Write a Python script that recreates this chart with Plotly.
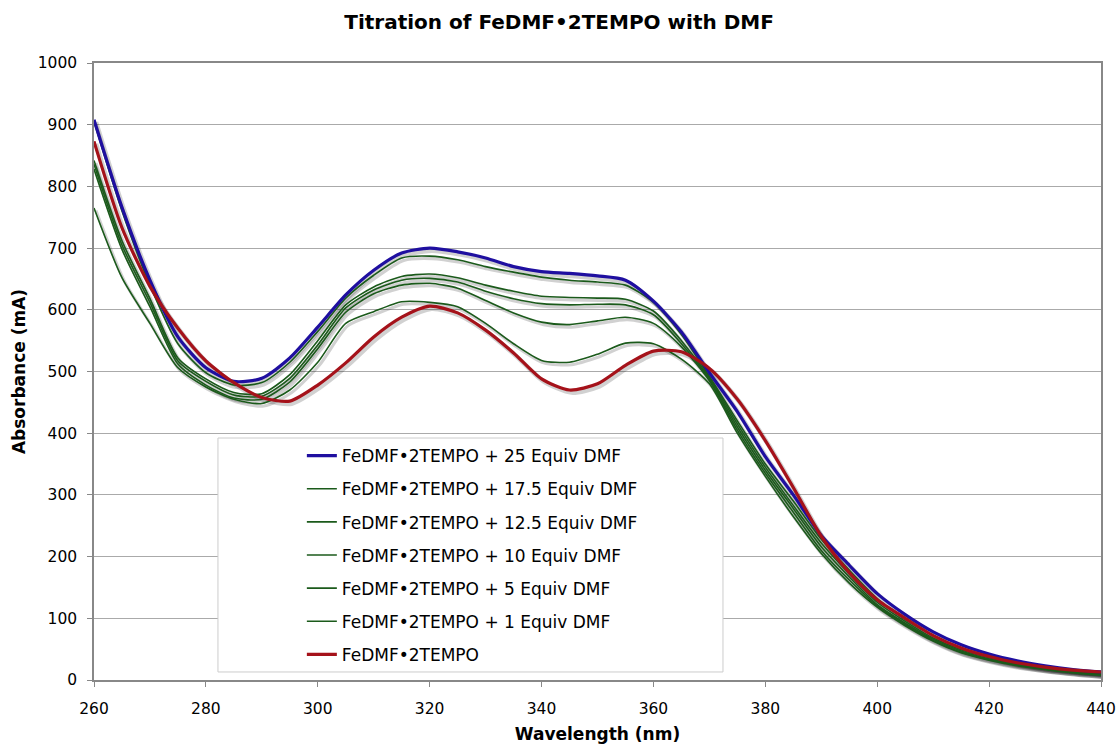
import plotly.graph_objects as go

wavelength = [260, 265, 270, 275, 280, 285, 290, 295, 300, 305, 310, 315, 320, 325, 330,
              335, 340, 345, 350, 355, 360, 365, 370, 375, 380, 385, 390, 395, 400, 405,
              410, 415, 420, 425, 430, 435, 440]

eq25 = [908, 766, 648, 556, 506, 484, 489, 522, 572, 624, 664, 692, 700, 694, 684,
        670, 662, 659, 655, 648, 614, 564, 498, 435, 362, 300, 234, 186, 140, 106,
        78, 57, 42, 31, 23, 17, 13]
eq17_5 = [905, 760, 640, 545, 498, 478, 482, 515, 565, 619, 656, 684, 687, 681, 670,
          661, 653, 648, 645, 640, 612, 560, 492, 420, 350, 290, 228, 178, 132, 98,
          72, 52, 38, 28, 20, 15, 11]
eq12_5 = [842, 712, 618, 522, 488, 466, 464, 495, 550, 608, 637, 654, 658, 652, 640,
          630, 622, 620, 619, 617, 598, 550, 490, 415, 345, 283, 222, 172, 126, 95,
          68, 49, 36, 26, 19, 14, 10]
eq10 = [836, 705, 612, 517, 484, 462, 460, 489, 543, 603, 632, 648, 651, 645, 630,
        618, 610, 608, 609, 608, 592, 545, 487, 410, 340, 278, 216, 167, 122, 92,
        66, 47, 34, 25, 18, 13, 9]
eq5 = [828, 698, 605, 512, 478, 457, 455, 483, 537, 596, 626, 640, 643, 635, 615,
       595, 580, 576, 582, 588, 578, 540, 485, 405, 335, 272, 210, 162, 120, 90,
       64, 45, 33, 24, 17, 12, 8]
eq1 = [765, 652, 578, 506, 475, 455, 448, 470, 515, 578, 597, 613, 612, 605, 578,
       545, 518, 515, 528, 546, 545, 520, 480, 400, 330, 265, 205, 157, 118, 88,
       63, 44, 32, 23, 17, 12, 8]
eq0 = [873, 733, 638, 570, 517, 482, 458, 452, 478, 514, 556, 588, 606, 595, 567,
       530, 488, 470, 480, 510, 533, 532, 505, 455, 388, 312, 233, 174, 130, 100,
       72, 52, 38, 28, 21, 16, 13]

series = [
    ("FeDMF•2TEMPO + 25 Equiv DMF", eq25, "#1F0FA0", 3.2),
    ("FeDMF•2TEMPO + 17.5 Equiv DMF", eq17_5, "#1B5A1B", 1.6),
    ("FeDMF•2TEMPO + 12.5 Equiv DMF", eq12_5, "#1B5A1B", 1.6),
    ("FeDMF•2TEMPO + 10 Equiv DMF", eq10, "#1B5A1B", 1.6),
    ("FeDMF•2TEMPO + 5 Equiv DMF", eq5, "#1B5A1B", 1.6),
    ("FeDMF•2TEMPO + 1 Equiv DMF", eq1, "#1B5A1B", 1.6),
    ("FeDMF•2TEMPO", eq0, "#A5121A", 3.2),
]

shadow_dx = 0.35
shadow_dy = 4

fig = go.Figure()

# soft grey drop shadows under each spectrum
for name, ys, color, w in series:
    fig.add_trace(go.Scatter(
        x=[v + shadow_dx for v in wavelength], y=[v - shadow_dy for v in ys],
        mode="lines", line=dict(color="rgba(0,0,0,0.18)", width=w + 1.5, shape="spline", smoothing=0.7),
        showlegend=False, hoverinfo="skip"))

draw_order = [1, 2, 3, 4, 5, 0, 6]
for i in draw_order:
    name, ys, color, w = series[i]
    fig.add_trace(go.Scatter(
        x=wavelength, y=ys, name=name, mode="lines",
        line=dict(color=color, width=w, shape="spline", smoothing=0.7),
        legendrank=i + 1, legendgroup="g%d" % i))

# legend frame (white box with light grey border)
fig.add_shape(type="rect", xref="paper", yref="paper",
              x0=0.1231, x1=0.6246, y0=0.013, y1=0.3922,
              fillcolor="white", line=dict(color="#CCCCCC", width=1), layer="above")

fig.update_layout(
    width=1119, height=744,
    paper_bgcolor="white", plot_bgcolor="white",
    margin=dict(l=94, r=18, t=63, b=64, autoexpand=False),
    title=dict(text="<b>Titration of FeDMF•2TEMPO with DMF</b>", x=0.4996, xanchor="center",
               y=0.9704, yanchor="middle",
               font=dict(family="DejaVu Sans", size=20, color="black")),
    font=dict(family="DejaVu Sans", size=15, color="black"),
    legend=dict(x=0.123, y=0.392, xanchor="left", yanchor="top",
                bgcolor="rgba(0,0,0,0)", borderwidth=0,
                font=dict(family="DejaVu Sans", size=17, color="black"),
                tracegroupgap=8, indentation=84, traceorder="grouped"),
    xaxis=dict(range=[260, 440], dtick=20, tick0=260, showgrid=False, automargin=False,
               showline=True, linecolor="#888888", linewidth=1.5, mirror=True,
               ticks="outside", ticklen=5, tickcolor="#888888",
               ticklabelstandoff=9,
               tickfont=dict(size=15.5),
               title=dict(text="<b>Wavelength (nm)</b>", font=dict(size=17), standoff=13),
               zeroline=False),
    yaxis=dict(range=[0, 1000], dtick=100, tick0=0, showgrid=True, gridcolor="#AAAAAA",
               gridwidth=1, showline=True, linecolor="#888888", linewidth=1.5, mirror=True,
               ticks="outside", ticklen=5, tickcolor="#888888", automargin=False,
               ticklabelstandoff=7,
               tickfont=dict(size=15.5),
               title=dict(text="<b>Absorbance (mA)</b>", font=dict(size=17), standoff=8),
               zeroline=False),
)

fig.write_html("out.html",
               config={"displayModeBar": False},
               post_script="document.body.style.margin='0px';document.body.style.overflow='hidden';")
